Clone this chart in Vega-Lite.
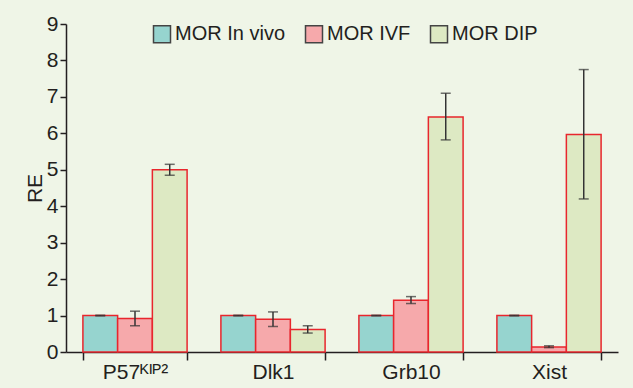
{
  "$schema": "https://vega.github.io/schema/vega-lite/v6.json",
  "width": 552,
  "height": 328,
  "autosize": {"type": "none"},
  "padding": {"left": 66, "top": 24, "right": 15, "bottom": 36},
  "background": "#eff5e7",
  "config": {
    "view": {"stroke": null},
    "font": "Liberation Sans",
    "axis": {"labelFont": "Liberation Sans", "titleFont": "Liberation Sans", "labelColor": "#231f20", "titleColor": "#231f20", "domainColor": "#231f20", "tickColor": "#231f20", "domainWidth": 1.5, "tickWidth": 1.5, "grid": false}
  },
  "data": {
    "values": [
      {"gene": "P57ᴷᴵᴾ²", "group": "MOR In vivo", "value": 1.0, "lo": 0.99, "hi": 1.01},
      {"gene": "P57ᴷᴵᴾ²", "group": "MOR IVF", "value": 0.92, "lo": 0.72, "hi": 1.12},
      {"gene": "P57ᴷᴵᴾ²", "group": "MOR DIP", "value": 5.0, "lo": 4.85, "hi": 5.15},
      {"gene": "Dlk1", "group": "MOR In vivo", "value": 1.0, "lo": 0.99, "hi": 1.01},
      {"gene": "Dlk1", "group": "MOR IVF", "value": 0.9, "lo": 0.7, "hi": 1.1},
      {"gene": "Dlk1", "group": "MOR DIP", "value": 0.62, "lo": 0.52, "hi": 0.72},
      {"gene": "Grb10", "group": "MOR In vivo", "value": 1.0, "lo": 0.99, "hi": 1.01},
      {"gene": "Grb10", "group": "MOR IVF", "value": 1.42, "lo": 1.33, "hi": 1.52},
      {"gene": "Grb10", "group": "MOR DIP", "value": 6.45, "lo": 5.82, "hi": 7.1},
      {"gene": "Xist", "group": "MOR In vivo", "value": 1.0, "lo": 0.99, "hi": 1.01},
      {"gene": "Xist", "group": "MOR IVF", "value": 0.14, "lo": 0.12, "hi": 0.17},
      {"gene": "Xist", "group": "MOR DIP", "value": 5.97, "lo": 4.2, "hi": 7.75}
    ]
  },
  "encoding": {
    "x": {
      "field": "gene", "type": "nominal", "sort": null,
      "scale": {"paddingInner": 0.245, "paddingOuter": 0.1225},
      "axis": {"title": null, "labelAngle": 0, "labelFontSize": 21, "tickBand": "extent", "tickSize": 8, "labelPadding": 1}
    },
    "xOffset": {"field": "group", "type": "nominal", "sort": ["MOR In vivo", "MOR IVF", "MOR DIP"], "scale": {"paddingInner": 0, "paddingOuter": 0}}
  },
  "layer": [
    {
      "mark": {"type": "bar", "stroke": "#e8262d", "strokeWidth": 1.5},
      "encoding": {
        "y": {"field": "value", "type": "quantitative", "scale": {"domain": [0, 9], "nice": false}, "axis": {"title": "RE", "titleFontSize": 21, "titleFontWeight": "normal", "labelFontSize": 21, "values": [0,1,2,3,4,5,6,7,8,9], "labelOverlap": false, "tickSize": 6, "labelPadding": 2, "titlePadding": 1}},
        "fill": {
          "field": "group", "type": "nominal",
          "scale": {"domain": ["MOR In vivo", "MOR IVF", "MOR DIP"], "range": ["#96d4cf", "#f6a9ab", "#dde9c3"]},
          "legend": {"title": null, "orient": "none", "legendX": 86, "legendY": 0, "direction": "horizontal", "symbolType": "square", "symbolSize": 289, "symbolStrokeColor": "#444444", "symbolStrokeWidth": 1.5, "labelFontSize": 20, "labelColor": "#231f20", "labelOffset": 3, "columnPadding": 16, "symbolOpacity": 1}
        }
      }
    },
    {
      "mark": {"type": "rule", "color": "#333333", "strokeWidth": 1.5},
      "encoding": {"y": {"field": "lo", "type": "quantitative", "axis": {"title": "RE", "titleFontSize": 21, "titleFontWeight": "normal", "labelFontSize": 21, "values": [0,1,2,3,4,5,6,7,8,9], "labelOverlap": false, "tickSize": 6, "labelPadding": 2, "titlePadding": 1}}, "y2": {"field": "hi"}}
    },
    {
      "mark": {"type": "tick", "color": "#333333", "thickness": 1.5, "size": 10},
      "encoding": {"y": {"field": "lo", "type": "quantitative", "axis": {"title": "RE", "titleFontSize": 21, "titleFontWeight": "normal", "labelFontSize": 21, "values": [0,1,2,3,4,5,6,7,8,9], "labelOverlap": false, "tickSize": 6, "labelPadding": 2, "titlePadding": 1}}}
    },
    {
      "mark": {"type": "tick", "color": "#333333", "thickness": 1.5, "size": 10},
      "encoding": {"y": {"field": "hi", "type": "quantitative", "axis": {"title": "RE", "titleFontSize": 21, "titleFontWeight": "normal", "labelFontSize": 21, "values": [0,1,2,3,4,5,6,7,8,9], "labelOverlap": false, "tickSize": 6, "labelPadding": 2, "titlePadding": 1}}}
    }
  ]
}
